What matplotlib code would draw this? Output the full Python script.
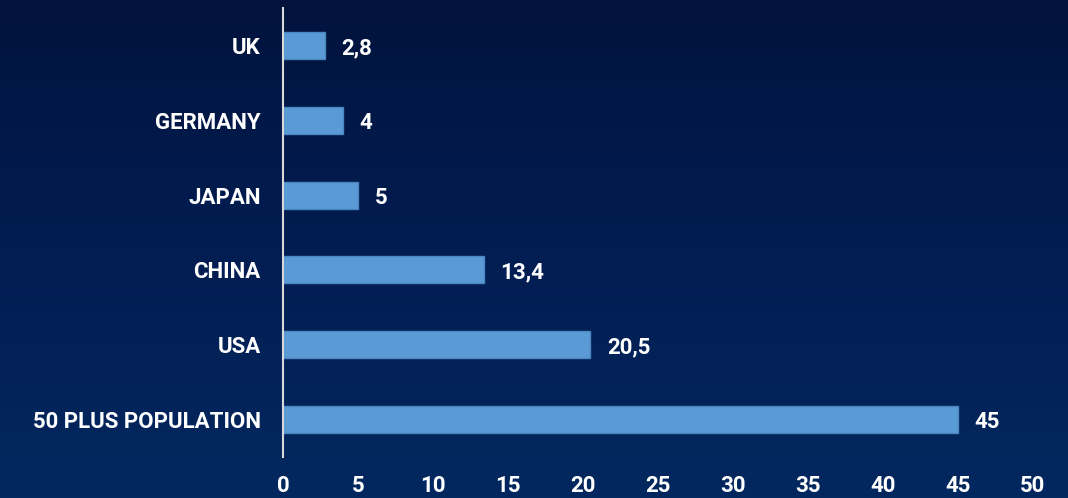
import numpy as np
import matplotlib.pyplot as plt
from matplotlib.colors import LinearSegmentedColormap

categories = ["UK", "GERMANY", "JAPAN", "CHINA", "USA", "50 PLUS POPULATION"]
values = [2.8, 4, 5, 13.4, 20.5, 45]
value_labels = ["2,8", "4", "5", "13,4", "20,5", "45"]
xticks = [0, 5, 10, 15, 20, 25, 30, 35, 40, 45, 50]

plt.rcParams['font.family'] = ['Roboto', 'DejaVu Sans']

fig = plt.figure(figsize=(10.68, 4.98), dpi=100)

# background gradient
bg = fig.add_axes([0, 0, 1, 1])
grad = np.linspace(0, 1, 256).reshape(-1, 1)
cmap = LinearSegmentedColormap.from_list("bg", ["#01133d", "#021d52", "#03285f"])
bg.imshow(grad, aspect="auto", cmap=cmap, extent=[0, 1, 0, 1])
bg.axis("off")

ax = fig.add_axes([0.265, 0.0823, 0.702, 0.9017])
ax.patch.set_alpha(0)
y = np.arange(len(categories))
ax.barh(y, values, height=0.36, color="#5b9bd5", edgecolor="#4a86c0", linewidth=1)
ax.set_ylim(len(categories) - 0.5, -0.5)
ax.set_xlim(0, 50)
ax.set_yticks(y)
ax.set_yticklabels(categories)
ax.set_xticks(xticks)
ax.set_xticklabels([str(t) for t in xticks])
ax.tick_params(axis="both", length=0, colors="white", labelsize=16)
ax.tick_params(axis="y", pad=16)
ax.tick_params(axis="x", pad=13)
for lbl in ax.get_xticklabels() + ax.get_yticklabels():
    lbl.set_fontweight("bold")
for s in ["top", "right", "bottom"]:
    ax.spines[s].set_visible(False)
ax.spines["left"].set_color("#d9d9d9")
ax.spines["left"].set_linewidth(1.5)

for yi, v, t in zip(y, values, value_labels):
    ax.annotate(t, (v, yi), xytext=(12, -2), textcoords="offset points",
                va="center", ha="left", color="white", fontsize=16, fontweight="bold")

fig.savefig("out.png", dpi=100)
